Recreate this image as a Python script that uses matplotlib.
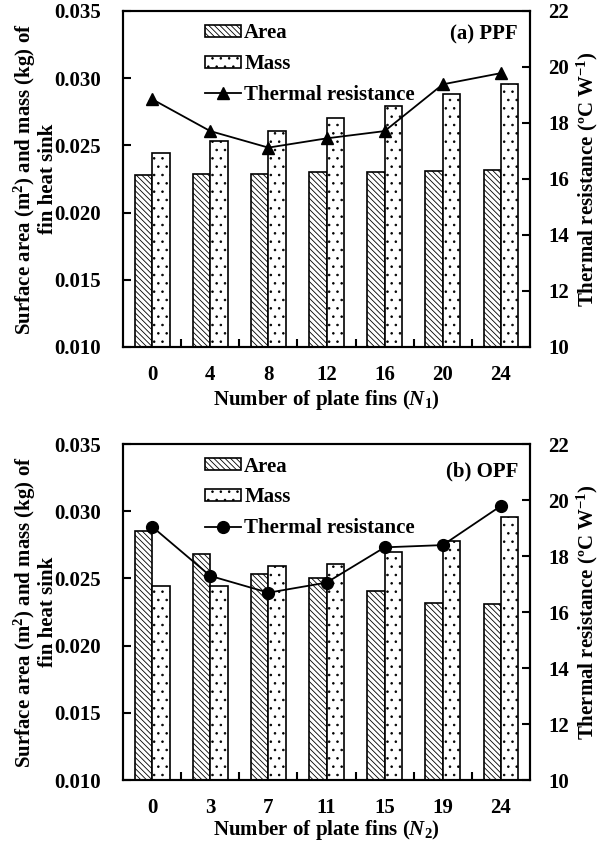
import numpy as np
import matplotlib
matplotlib.use("Agg")
import matplotlib.pyplot as plt
from matplotlib.ticker import FixedLocator, NullFormatter

plt.rcParams['font.family'] = ['Liberation Serif', 'DejaVu Serif']
plt.rcParams['font.weight'] = 'bold'
plt.rcParams['axes.labelweight'] = 'bold'
plt.rcParams['font.size'] = 15
plt.rcParams['mathtext.fontset'] = 'custom'
plt.rcParams['mathtext.rm'] = 'Liberation Serif:bold'
plt.rcParams['mathtext.it'] = 'Liberation Serif:bold:italic'
plt.rcParams['mathtext.bf'] = 'Liberation Serif:bold'
plt.rcParams['hatch.linewidth'] = 0.6
plt.rcParams['axes.linewidth'] = 1.5

# ---- data ----
ppf_fins = ['0', '4', '8', '12', '16', '20', '24']
ppf_area = [0.0228, 0.02285, 0.0229, 0.0230, 0.0230, 0.0231, 0.0232]
ppf_mass = [0.0244, 0.0253, 0.0261, 0.0270, 0.0279, 0.0288, 0.0296]
ppf_rth = [18.85, 17.71, 17.12, 17.45, 17.71, 19.38, 19.78]

opf_fins = ['0', '3', '7', '11', '15', '19', '24']
opf_area = [0.0285, 0.0268, 0.0253, 0.0250, 0.0241, 0.0232, 0.0231]
opf_mass = [0.0244, 0.0244, 0.0259, 0.0261, 0.0270, 0.0278, 0.0296]
opf_rth = [19.05, 17.29, 16.69, 17.05, 18.31, 18.39, 19.79]

fig = plt.figure(figsize=(6.03, 8.43), dpi=100)

panels = [
    dict(pos=[0.204, 0.5884, 0.675, 0.3986], fins=ppf_fins, area=ppf_area, mass=ppf_mass,
         rth=ppf_rth, marker='^', tag='(a) PPF', tagy=0.929, xly=-0.122,
         xlabel=r'Number of plate fins ($\mathit{N}_{\mathit{1}}$)'),
    dict(pos=[0.204, 0.0747, 0.675, 0.3986], fins=opf_fins, area=opf_area, mass=opf_mass,
         rth=opf_rth, marker='o', tag='(b) OPF', tagy=0.918, xly=-0.114,
         xlabel=r'Number of plate fins ($\mathit{N}_{2}$)'),
]

w = 0.3
for p in panels:
    ax = fig.add_axes(p['pos'])
    x = np.arange(len(p['fins']))
    b1 = ax.bar(x - w / 2, p['area'], w, facecolor='white', edgecolor='black',
                linewidth=1.2, hatch='\\\\\\\\\\\\', label='Area')
    b2 = ax.bar(x + w / 2, p['mass'], w, facecolor='white', edgecolor='black',
                linewidth=1.2, hatch='..', label='Mass')
    ax.set_xlim(-0.5, len(x) - 0.5)
    ax.set_ylim(0.010, 0.035)
    ax.set_yticks(np.arange(0.010, 0.0351, 0.005))
    ax.set_yticklabels(['0.010', '0.015', '0.020', '0.025', '0.030', '0.035'])
    ax.set_xticks(x)
    ax.set_xticklabels(p['fins'])
    ax.xaxis.set_minor_locator(FixedLocator(np.arange(0.5, len(x) - 1, 1.0)))
    ax.xaxis.set_minor_formatter(NullFormatter())
    ax.tick_params(axis='x', which='major', length=0, pad=13)
    ax.tick_params(axis='x', which='minor', direction='in', length=6, width=1.5, top=False)
    ax.tick_params(axis='y', direction='in', length=6, width=1.5, pad=16, right=False)
    ax.set_ylabel('Surface area (m$\\mathregular{^2}$) and mass (kg) of\nfin heat sink',
                  linespacing=1.0)
    ax.yaxis.set_label_coords(-0.160, 0.5)
    ax.set_xlabel(p['xlabel'])
    ax.xaxis.set_label_coords(0.5, p['xly'])

    ax2 = ax.twinx()
    ln, = ax2.plot(x, p['rth'], color='black', linewidth=1.3, marker=p['marker'],
                   markersize=8.5, label='Thermal resistance')
    ax2.set_ylim(10, 22)
    ax2.set_yticks(np.arange(10, 22.1, 2))
    ax2.tick_params(axis='y', direction='in', length=6, width=1.5, pad=13)
    ax2.set_ylabel('Thermal resistance (ºC W$\\mathregular{^{-1}}$)')
    ax2.yaxis.set_label_coords(1.110, 0.5)
    for s in ax2.spines.values():
        s.set_linewidth(1.5)

    ax.text(0.9705, p['tagy'], p['tag'], transform=ax.transAxes, ha='right', va='center')
    ax2.legend([b1, b2, ln], ['Area', 'Mass', 'Thermal resistance'], loc='upper left',
               bbox_to_anchor=(0.17, 1.0), frameon=False, handlelength=1.75,
               handleheight=0.5, handletextpad=0.15, labelspacing=0.52, borderaxespad=0.2)

fig.savefig('out.png', dpi=100)
